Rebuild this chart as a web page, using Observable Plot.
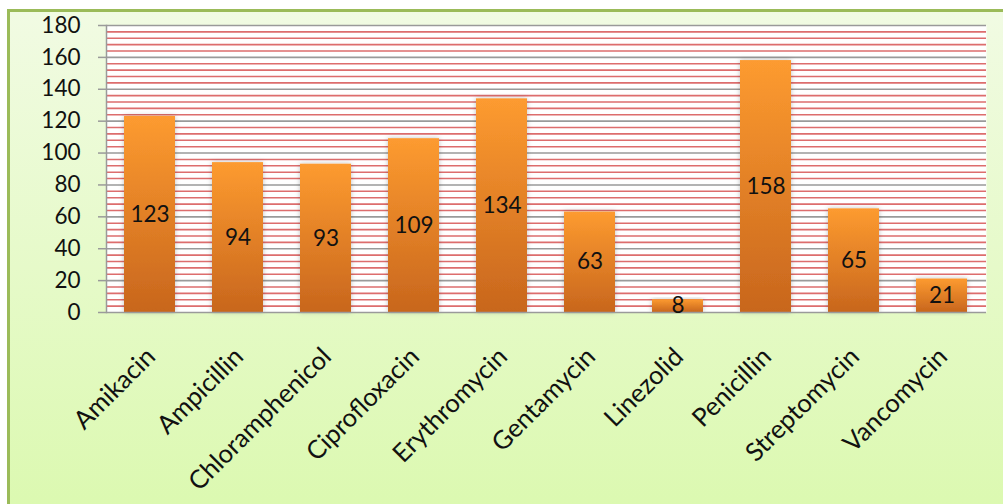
<!DOCTYPE html>
<html>
<head>
<meta charset="utf-8">
<script src="https://cdn.jsdelivr.net/npm/d3@7"></script>
<script src="https://cdn.jsdelivr.net/npm/@observablehq/plot@0.6"></script>
<style>
  html, body { margin: 0; padding: 0; width: 1003px; height: 504px; overflow: hidden; background: #ffffff; }
  #frame { position: absolute; left: 7px; top: 9px; width: 1010px; height: 510px;
    border: 3px solid #9bbb59; background: linear-gradient(#f1fbe3, #dbf9af); }
  #chart { position: absolute; left: 0; top: 0; }
  #chart svg { background: transparent; }
</style>
</head>
<body>
<div id="frame"></div>
<div id="chart"></div>
<script>
const categories = ["Amikacin","Ampicillin","Chloramphenicol","Ciprofloxacin","Erythromycin","Gentamycin","Linezolid","Penicillin","Streptomycin","Vancomycin"];
const values = [123, 94, 93, 109, 134, 63, 8, 158, 65, 21];
const yTicks = [0, 20, 40, 60, 80, 100, 120, 140, 160, 180];
const minorTicks = d3.range(4, 180, 4).filter(v => v % 20 !== 0);

const data = categories.map((c, i) => ({name: c, value: values[i]}));
const FONT = "Lato, 'Open Sans', sans-serif";

const defs = () => {
  const g = d3.create("svg:defs");
  const lg = g.append("linearGradient").attr("id", "barGrad").attr("x1", 0).attr("y1", 0).attr("x2", 0).attr("y2", 1);
  lg.append("stop").attr("offset", "0%").attr("stop-color", "#fd9b30");
  lg.append("stop").attr("offset", "100%").attr("stop-color", "#c8661d");
  const f = g.append("filter").attr("id", "barShadow").attr("x", "-30%").attr("y", "-10%").attr("width", "160%").attr("height", "120%");
  f.append("feDropShadow").attr("dx", 0).attr("dy", 0).attr("stdDeviation", 2.5).attr("flood-color", "#000").attr("flood-opacity", 0.25);
  return g.node();
};

const chart = Plot.plot({
  width: 1003,
  height: 504,
  marginLeft: 106,
  marginRight: 17,
  marginTop: 25,
  marginBottom: 192,
  style: {fontFamily: FONT, background: "transparent", overflow: "visible"},
  x: {domain: categories, paddingInner: 0.42, paddingOuter: 0.21, axis: null},
  y: {domain: [0, 180], axis: null},
  marks: [
    defs,
    Plot.frame({fill: "white", stroke: null}),
    Plot.ruleY(minorTicks, {stroke: "#d23c3c", strokeOpacity: 0.75, strokeWidth: 1.6}),
    Plot.ruleY(yTicks.filter(v => v > 0), {stroke: "#9a9a9a", strokeWidth: 1.6}),
    Plot.barY(data, {x: "name", y: "value", fill: "url(#barGrad)"}),
    Plot.frame({anchor: "left", stroke: "#9a9a9a", strokeWidth: 1.5}),
    Plot.ruleY([0], {stroke: "#9a9a9a", strokeWidth: 1.5}),
    Plot.axisY({ticks: yTicks, label: null, tickSize: 8, tickPadding: 18, fontSize: 22.5, stroke: "#9a9a9a", color: "#111", tickFormat: d => d, strokeWidth: 1.5}),
    Plot.text(data, {x: "name", y: d => d.value / 2, text: d => String(d.value), fontSize: 22.5, fill: "#111"}),
    Plot.text(categories, {x: d => d, y: () => 0, rotate: -45, textAnchor: "end", lineAnchor: "middle", fontSize: 25.5, fill: "#111", dx: 1, dy: 40})
  ]
});

d3.select(chart).selectAll("g[aria-label='bar'] rect").attr("filter", "url(#barShadow)");

document.getElementById("chart").appendChild(chart);
</script>
</body>
</html>
